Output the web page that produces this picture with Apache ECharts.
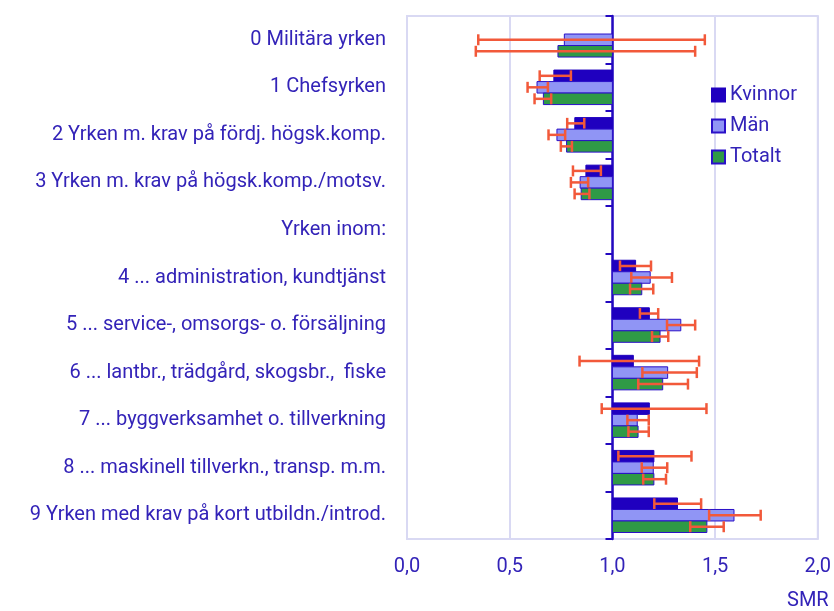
<!DOCTYPE html>
<html>
<head>
<meta charset="utf-8">
<script src="https://cdn.jsdelivr.net/npm/echarts@6/dist/echarts.min.js"></script>
<style>
  html, body { margin: 0; padding: 0; background: #fff; }
  #chart { width: 834px; height: 611px; }
</style>
</head>
<body>
<div id="chart"></div>
<script>
const categories = [
  '0 Militära yrken',
  '1 Chefsyrken',
  '2 Yrken m. krav på fördj. högsk.komp.',
  '3 Yrken m. krav på högsk.komp./motsv.',
  'Yrken inom:',
  '4 ... administration, kundtjänst',
  '5 ... service-, omsorgs- o. försäljning',
  '6 ... lantbr., trädgård, skogsbr.,  fiske',
  '7 ... byggverksamhet o. tillverkning',
  '8 ... maskinell tillverkn., transp. m.m.',
  '9 Yrken med krav på kort utbildn./introd.'
]

// SMR values, null = no value
const kvinnor = [null, 0.715, 0.817, 0.871, null, 1.113, 1.180, 1.102, 1.180, 1.202, 1.317]
const kvinnorLow = [null, 0.646, 0.780, 0.808, null, 1.037, 1.134, 0.840, 0.948, 1.029, 1.204]
const kvinnorHigh = [null, 0.798, 0.863, 0.944, null, 1.188, 1.223, 1.422, 1.458, 1.385, 1.432]

const man = [0.766, 0.633, 0.730, 0.843, null, 1.184, 1.333, 1.269, 1.121, 1.199, 1.592]
const manLow = [0.347, 0.587, 0.689, 0.798, null, 1.092, 1.266, 1.146, 1.073, 1.143, 1.471]
const manHigh = [1.450, 0.686, 0.770, 0.882, null, 1.290, 1.403, 1.411, 1.177, 1.267, 1.722]

const totalt = [0.735, 0.664, 0.777, 0.848, null, 1.143, 1.232, 1.245, 1.125, 1.202, 1.460]
const totaltLow = [0.335, 0.621, 0.749, 0.816, null, 1.086, 1.193, 1.126, 1.078, 1.150, 1.379]
const totaltHigh = [1.403, 0.702, 0.803, 0.888, null, 1.199, 1.272, 1.368, 1.177, 1.261, 1.542]

const xTicks = ['0,0', '0,5', '1,0', '1,5', '2,0']

const BASE = 1.0
const textColor = '#3323b8'
const axisColor = '#2308c0'
const gridColor = '#d9d9f3'
const errColor = '#f2593a'
const font = 'Roboto'
const fontSize = 20

function toData (vals, lows, highs) {
  const out = []
  vals.forEach((v, i) => {
    if (v == null) return
    out.push([v, i, lows[i], highs[i]])
  })
  return out
}

function makeRender (slot, fill, stroke) {
  return function (params, api) {
    const cat = api.value(1)
    const band = api.size([0, 1])[1]
    const barH = band * 0.242
    const center = api.coord([BASE, cat])
    const cy = center[1] + slot * barH
    const x0 = center[0]
    const x1 = api.coord([api.value(0), cat])[0]
    const lo = api.coord([api.value(2), cat])[0]
    const hi = api.coord([api.value(3), cat])[0]
    const capH = 11
    const err = { stroke: errColor, lineWidth: 2.5 }
    return {
      type: 'group',
      children: [
        {
          type: 'rect',
          shape: { x: Math.min(x0, x1), y: cy - barH / 2, width: Math.abs(x1 - x0), height: barH },
          style: { fill: fill, stroke: stroke, lineWidth: 1 }
        },
        { type: 'line', shape: { x1: lo, y1: cy, x2: hi, y2: cy }, style: err },
        { type: 'line', shape: { x1: lo, y1: cy - capH / 2, x2: lo, y2: cy + capH / 2 }, style: err },
        { type: 'line', shape: { x1: hi, y1: cy - capH / 2, x2: hi, y2: cy + capH / 2 }, style: err }
      ]
    }
  }
}

const groups = [
  { name: 'Kvinnor', data: toData(kvinnor, kvinnorLow, kvinnorHigh), slot: -1, fill: '#1f00bf', stroke: '#1f00bf' },
  { name: 'Män', data: toData(man, manLow, manHigh), slot: 0, fill: '#9095f5', stroke: '#2a10c8' },
  { name: 'Totalt', data: toData(totalt, totaltLow, totaltHigh), slot: 1, fill: '#2f9a46', stroke: '#2a10c8' }
]

const chart = echarts.init(document.getElementById('chart'))

chart.setOption({
  animation: false,
  textStyle: { fontFamily: font },
  grid: {
    left: 407, right: 16, top: 16, bottom: 72,
    show: true, borderColor: gridColor, borderWidth: 2
  },
  legend: {
    orient: 'vertical',
    left: 706,
    top: 80,
    itemWidth: 13,
    itemHeight: 13,
    itemGap: 11,
    icon: 'rect',
    textStyle: { color: textColor, fontSize: fontSize, fontFamily: font },
    data: groups.map(g => g.name)
  },
  xAxis: {
    type: 'value',
    min: 0,
    max: 2,
    interval: 0.5,
    axisLine: { show: false },
    axisTick: { show: false },
    splitLine: { lineStyle: { color: gridColor, width: 2 } },
    axisLabel: {
      color: textColor,
      fontSize: fontSize,
      margin: 18,
      formatter: v => xTicks[Math.round(v / 0.5)]
    }
  },
  yAxis: [
    {
      type: 'category',
      inverse: true,
      data: categories,
      axisLine: { show: false },
      axisTick: { show: false },
      axisLabel: { color: textColor, fontSize: fontSize, margin: 21 }
    },
    {
      type: 'category',
      inverse: true,
      data: categories,
      position: 'left',
      offset: -205.5,
      axisLine: { show: true, lineStyle: { color: axisColor, width: 2.5 } },
      axisTick: { show: true, length: 7, lineStyle: { color: axisColor, width: 2 } },
      axisLabel: { show: false }
    }
  ],
  graphic: [
    {
      type: 'text',
      left: 787,
      top: 591,
      style: { text: 'SMR', fill: textColor, font: fontSize + 'px ' + font }
    }
  ],
  series: groups.map(g => ({
    name: g.name,
    type: 'custom',
    xAxisIndex: 0,
    yAxisIndex: 0,
    itemStyle: { color: g.fill, borderColor: g.stroke, borderWidth: 1 },
    encode: { x: [0, 2, 3], y: 1 },
    renderItem: makeRender(g.slot, g.fill, g.stroke),
    data: g.data,
    z: 3
  }))
})
</script>
</body>
</html>
